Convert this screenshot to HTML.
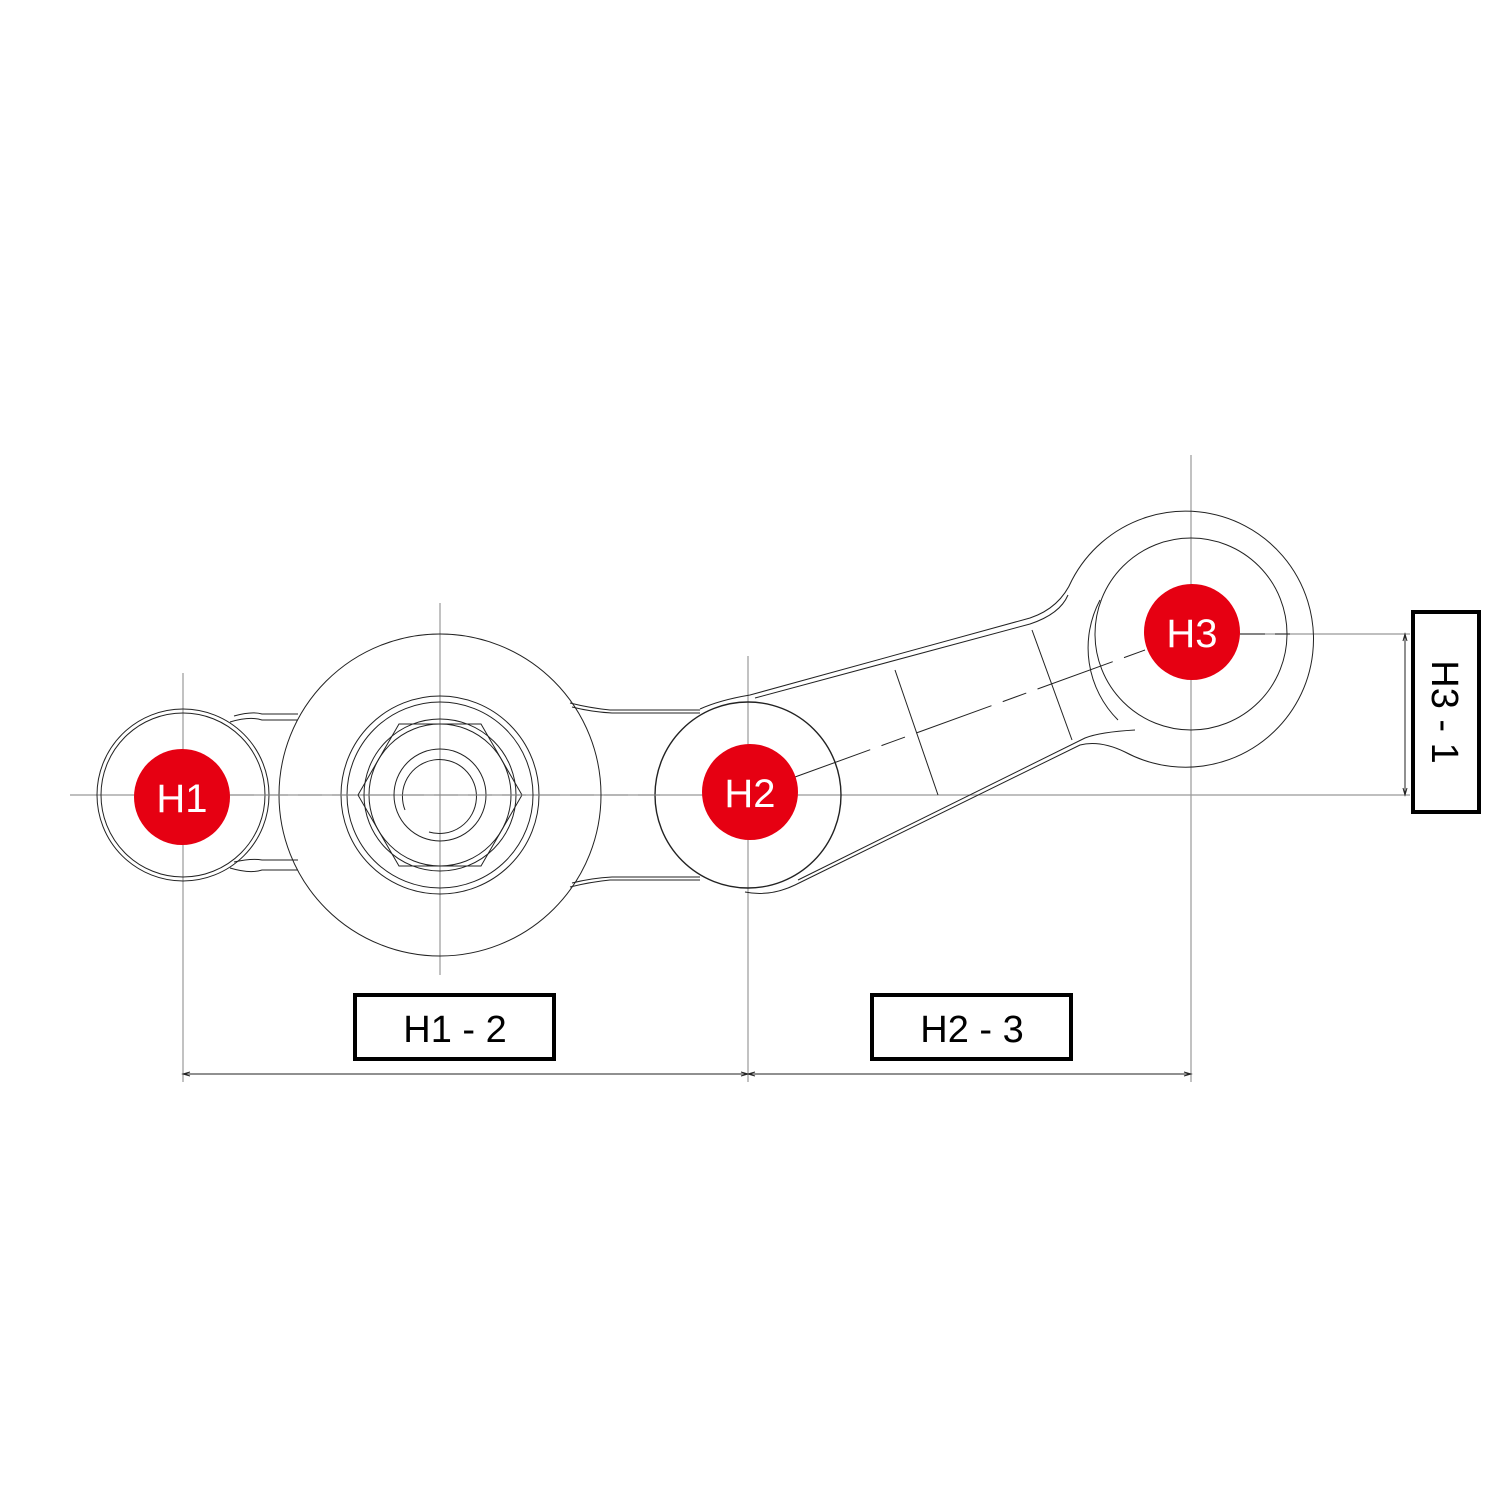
<!DOCTYPE html>
<html><head><meta charset="utf-8"><style>
html,body{margin:0;padding:0;background:#fff}
svg{display:block}
text{font-family:"Liberation Sans",sans-serif}
</style></head><body>
<svg width="1500" height="1500" viewBox="0 0 1500 1500" xmlns="http://www.w3.org/2000/svg">
<rect width="1500" height="1500" fill="#fff"/>
<!-- axes -->
<g stroke="#999" stroke-width="1.2" fill="none">
<line x1="70" y1="795" x2="1410" y2="795" stroke-dasharray="none"/>
<line x1="183" y1="673" x2="183" y2="1082"/>
<line x1="440" y1="603" x2="440" y2="975"/>
<line x1="748" y1="656" x2="748" y2="1082"/>
<line x1="1191" y1="455" x2="1191" y2="1082"/>
<line x1="1240" y1="634" x2="1410" y2="634"/>
</g>
<g stroke="#222" stroke-width="1" fill="none">
<!-- H1 boss -->
<circle cx="183" cy="795" r="86"/>
<circle cx="183" cy="795" r="82"/>
<path d="M230 722 Q250 716 262 720 L298 720"/>
<path d="M234 716 Q252 711 262 714 L298 714"/>
<path d="M230 868 Q250 874 262 870 L298 870"/>
<path d="M234 862 Q252 858 262 860 L298 860"/>
<!-- big boss -->
<circle cx="440" cy="795" r="161"/>
<circle cx="440" cy="795" r="99"/>
<circle cx="440" cy="795" r="93"/>
<polygon points="358,795 399,724 481,724 522,795 481,866 399,866"/>
<circle cx="440" cy="795" r="76"/>
<circle cx="440" cy="795" r="71"/>
<circle cx="440" cy="795" r="46"/>
<path d="M405 810 A37 37 0 1 1 429 832"/>
<path d="M570 703 Q590 708 610 710 L700 710"/>
<path d="M572 707 Q592 712 612 713 L700 713"/>
<path d="M570 887 Q590 882 610 880 L700 880"/>
<path d="M572 883 Q592 878 612 877 L700 877"/>
<!-- H2 boss -->
<circle cx="748" cy="795" r="93" stroke-width="1.4"/>
<!-- arm -->
<path d="M700 709 Q720 700 750 695 L1030 618 Q1060 608 1072 580 A128 128 0 1 1 1125 752 Q1100 740 1080 745 L795 885 Q770 897 745 892"/>
<path d="M755 698 L1030 624 Q1060 614 1068 595"/>
<path d="M798 880 L1085 738 Q1100 732 1135 730"/>
<circle cx="1191" cy="634" r="96"/>
<path d="M1118 720 A102 102 0 0 1 1100 600"/>
<line x1="895" y1="670" x2="938" y2="795"/>
<line x1="1032" y1="630" x2="1072" y2="740"/>
<line x1="795" y1="777" x2="1145" y2="650" stroke-dasharray="80 12 25 12"/>
<line x1="1240" y1="634" x2="1290" y2="634" stroke-dasharray="25 10"/>
<line x1="230" y1="795" x2="660" y2="795" stroke="#888" stroke-dasharray="24 10"/>
<!-- dim lines -->
<line x1="183" y1="1074" x2="1191" y2="1074"/>
<line x1="1405" y1="634" x2="1405" y2="795"/>
<path d="M190 1072 L183 1074 L190 1076 M741 1072 L748 1074 L741 1076 M755 1072 L748 1074 L755 1076 M1184 1072 L1191 1074 L1184 1076 M1403 641 L1405 634 L1407 641 M1403 788 L1405 795 L1407 788"/>
</g>
<!-- red markers -->
<g fill="#e60012">
<circle cx="182" cy="797" r="48"/>
<circle cx="750" cy="792" r="48"/>
<circle cx="1192" cy="632" r="48"/>
</g>
<g fill="#fff" font-size="40" text-anchor="middle">
<text x="182" y="812">H1</text>
<text x="750" y="807">H2</text>
<text x="1192" y="647">H3</text>
</g>
<!-- boxes -->
<g fill="#fff" stroke="#000" stroke-width="4">
<rect x="355" y="995" width="199" height="64"/>
<rect x="872" y="995" width="199" height="64"/>
<rect x="1413" y="612" width="66" height="200"/>
</g>
<g fill="#000" font-size="38" text-anchor="middle">
<text x="455" y="1042">H1 - 2</text>
<text x="972" y="1042">H2 - 3</text>
<text transform="translate(1432,712) rotate(90)" x="0" y="0">H3 - 1</text>
</g>
</svg>
</body></html>
